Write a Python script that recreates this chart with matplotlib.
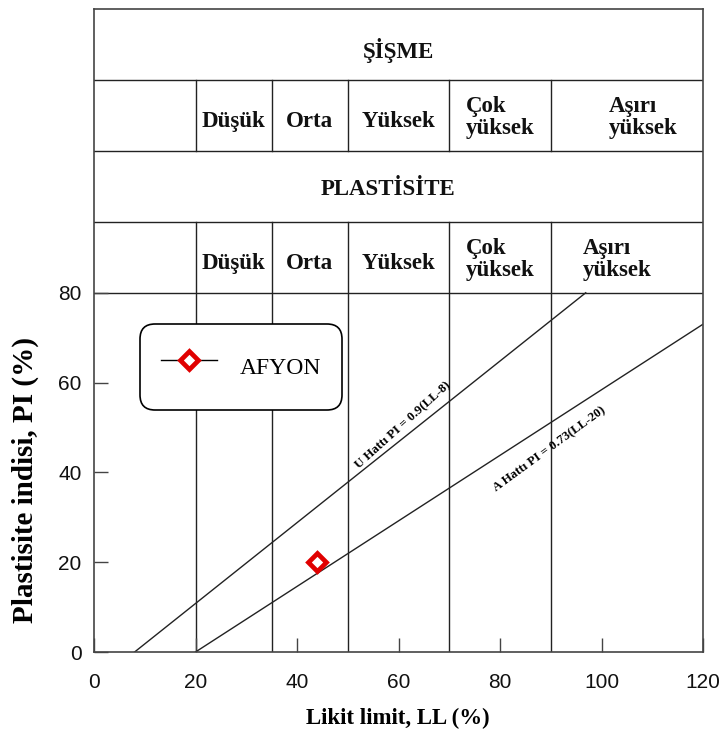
import matplotlib
matplotlib.use("Agg")
import matplotlib.pyplot as plt
import numpy as np

# --- data -------------------------------------------------------------
sample_names = ["AFYON"]
sample_ll = [44]          # liquid limit (%)
sample_pi = [20]          # plasticity index (%)

x_ticks = [0, 20, 40, 60, 80, 100, 120]
y_ticks = [0, 20, 40, 60, 80]

# class boundaries on the liquid-limit axis
class_bounds = [20, 35, 50, 70, 90, 120]
swell_title = "ŞİŞME"
plast_title = "PLASTİSİTE"
swell_classes = ["Düşük", "Orta", "Yüksek", "Çok\nyüksek", "Aşırı\nyüksek"]
plast_classes = ["Düşük", "Orta", "Yüksek", "Çok\nyüksek", "Aşırı\nyüksek"]

# Casagrande lines: PI = slope * (LL - offset)
u_slope, u_offset = 0.9, 8
a_slope, a_offset = 0.73, 20
u_label = "U Hattı PI = 0.9(LL-8)"
a_label = "A Hattı PI = 0.73(LL-20)"

# --- style ------------------------------------------------------------
serif = ["Liberation Serif", "DejaVu Serif"]
sans = ["Liberation Sans", "DejaVu Sans"]
line_col = "#222222"
red = "#e00000"

fig = plt.figure(figsize=(7.26, 7.38), dpi=100)
ax = fig.add_axes([94 / 726, 1 - 652 / 738, 609 / 726, 643 / 738])

pi_max = 80
row_h = 15.8
row_edges = [pi_max + i * row_h for i in range(5)]   # 80 .. top of header table
ax.set_xlim(0, 120)
ax.set_ylim(0, row_edges[-1])

# header table: horizontal rules
for y in row_edges[:-1]:
    ax.plot([0, 120], [y, y], color=line_col, lw=1.0, zorder=1)

# vertical class boundaries (chart area + plasticity row, and swelling row)
for xb in class_bounds[:-1]:
    ax.plot([xb, xb], [0, row_edges[1]], color=line_col, lw=1.0, zorder=1)
    ax.plot([xb, xb], [row_edges[2], row_edges[3]], color=line_col, lw=1.0, zorder=1)

# header text
hdr_kw = dict(family=serif, fontsize=16.5, fontweight="bold", color="#111111")
ax.text(60, (row_edges[3] + row_edges[4]) / 2 - 1.3, swell_title,
        ha="center", va="center", **hdr_kw)
ax.text(58, (row_edges[1] + row_edges[2]) / 2 - 0.8, plast_title,
        ha="center", va="center", **hdr_kw)

centers = [(class_bounds[i] + class_bounds[i + 1]) / 2 for i in range(5)]
swell_x = centers[:4] + [108.2]
plast_x = centers[:4] + [103.0]
for i, (s, p) in enumerate(zip(swell_classes, plast_classes)):
    two_line = "\n" in s
    dy = 0.5 if two_line else 1.3
    ax.text(swell_x[i], (row_edges[2] + row_edges[3]) / 2 - dy, s, ha="center",
            va="center", multialignment="left", linespacing=1.1, **hdr_kw)
    ax.text(plast_x[i], (row_edges[0] + row_edges[1]) / 2 - dy, p, ha="center",
            va="center", multialignment="left", linespacing=1.1, **hdr_kw)

# U and A lines
u_x = np.array([u_offset, u_offset + pi_max / u_slope])
ax.plot(u_x, u_slope * (u_x - u_offset), color=line_col, lw=1.0, zorder=2)
a_x = np.array([a_offset, 120])
ax.plot(a_x, a_slope * (a_x - a_offset), color=line_col, lw=1.0, zorder=2)

lab_kw = dict(family=serif, fontsize=9.3, fontweight="bold", ha="center",
              va="center", rotation_mode="anchor", transform_rotates_text=True)
u_at = 62.1
ax.annotate(u_label, xy=(u_at, u_slope * (u_at - u_offset)),
            xytext=(-4.3, 5.8), textcoords="offset points",
            rotation=np.degrees(np.arctan(u_slope)), **lab_kw)
a_at = 87.5
ax.annotate(a_label, xy=(a_at, a_slope * (a_at - a_offset)),
            xytext=(8.6, -13.0), textcoords="offset points",
            rotation=np.degrees(np.arctan(a_slope)), **lab_kw)

# sample point
ax.plot(sample_ll, sample_pi, color="black", lw=1.0, marker="D", ms=9,
        mfc="white", mec=red, mew=3.4, label=sample_names[0], zorder=5)

leg = ax.legend(loc="center", bbox_to_anchor=(0.2414, 0.4432),
                prop={"family": serif, "size": 17}, frameon=True,
                fancybox=True, framealpha=1, edgecolor="black",
                borderpad=0.9, handlelength=2.37, handleheight=2.5,
                handletextpad=0.97)
leg.get_frame().set_linewidth(1.2)
leg.get_frame().set_boxstyle("round", pad=0, rounding_size=0.65)
leg.set_zorder(6)

# axes, ticks and labels
ax.set_xticks(x_ticks)
ax.set_yticks(y_ticks)
ax.tick_params(direction="in", length=10, width=1.0, color="#444444",
               labelsize=15, labelcolor="#111111")
ax.tick_params(axis="x", pad=15)
ax.tick_params(axis="y", pad=9)
for lbl in ax.get_xticklabels() + ax.get_yticklabels():
    lbl.set_family(sans)
for sp in ax.spines.values():
    sp.set_linewidth(1.2)
    sp.set_color("#444444")

ax.set_xlabel("Likit limit, LL (%)", family=serif, fontsize=16.5,
              fontweight="bold")
ax.xaxis.set_label_coords(0.499, -0.087)
ax.set_ylabel("Plastisite indisi, PI (%)", family=serif, fontsize=21,
              fontweight="bold")
ax.yaxis.set_label_coords(-0.09, 0.2675)

fig.savefig("out.png", dpi=100)
